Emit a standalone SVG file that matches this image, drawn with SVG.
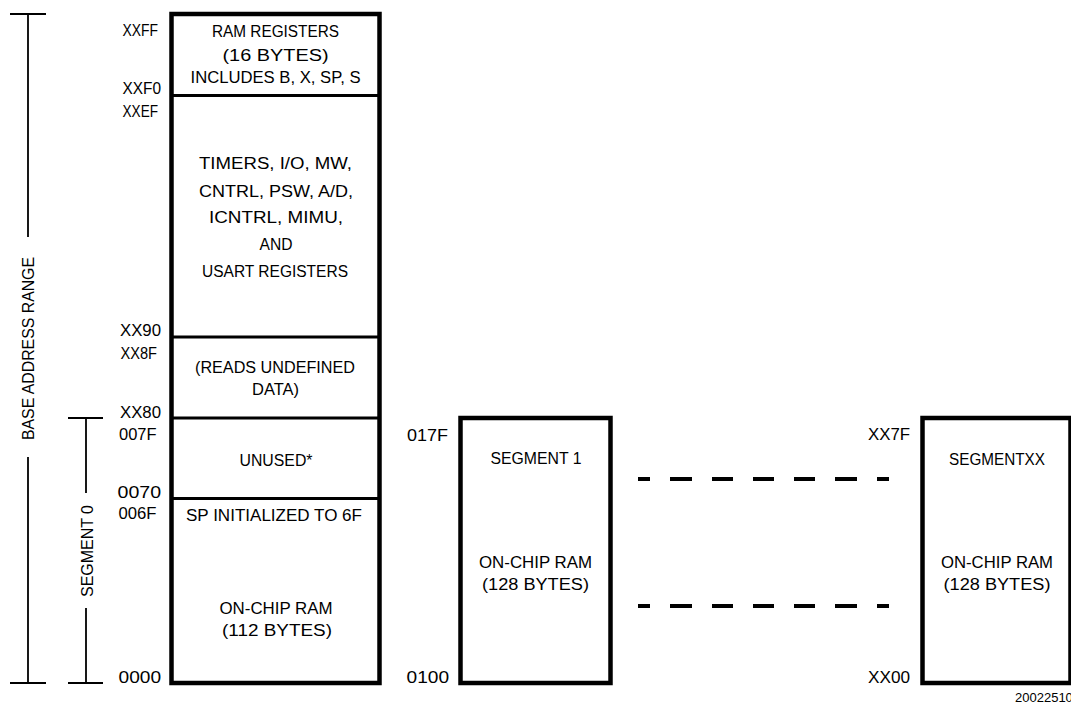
<svg xmlns="http://www.w3.org/2000/svg" width="1071" height="711" viewBox="0 0 1071 711">
<style>
text{font-family:"Liberation Sans",Arial,sans-serif;font-size:16px;fill:#000}
.c{text-anchor:middle}
.box{fill:#fff;stroke:#000;stroke-width:4.5}
.div{stroke:#000;stroke-width:3;fill:none}
.thin{stroke:#000;stroke-width:1.8;fill:none}
.dash{stroke:#000;stroke-width:4;fill:none}
.fig{font-size:13px}
</style>
<rect width="1071" height="711" fill="#fff"/>
<g id="connectors">
<path class="thin" d="M10 14H46M28 14V237M28 457V683M10 683H46"/>
<path class="thin" d="M68 418H103M86 418V493M86 608V683M68 683H103"/>
<path class="dash" d="M638 479H650M670 479H692M712 479H733M753 479H774M794 479H815M835 479H857M877 479H889"/>
<path class="dash" d="M638 606H650M670 606H692M712 606H733M753 606H774M794 606H815M835 606H857M877 606H889"/>
</g>
<g id="range-labels">
<text transform="translate(34 348.5) rotate(-90)" class="c" textLength="183" lengthAdjust="spacingAndGlyphs">BASE ADDRESS RANGE</text>
<text transform="translate(92.5 551) rotate(-90)" class="c" textLength="92" lengthAdjust="spacingAndGlyphs">SEGMENT 0</text>
</g>
<g id="segment0">
<rect class="box" x="171.5" y="14" width="208" height="669"/>
<path class="div" d="M171.5 95.5H379.5M171.5 337H379.5M171.5 418H379.5M171.5 498.5H379.5"/>
<text x="275.5" y="36.5" class="c" textLength="127" lengthAdjust="spacingAndGlyphs">RAM REGISTERS</text>
<text x="275.5" y="60.5" class="c" textLength="106" lengthAdjust="spacingAndGlyphs">(16 BYTES)</text>
<text x="275.5" y="83" class="c" textLength="170" lengthAdjust="spacingAndGlyphs">INCLUDES B, X, SP, S</text>
<text x="275.5" y="169" class="c" textLength="153" lengthAdjust="spacingAndGlyphs">TIMERS, I/O, MW,</text>
<text x="276" y="197" class="c" textLength="154" lengthAdjust="spacingAndGlyphs">CNTRL, PSW, A/D,</text>
<text x="276" y="223" class="c" textLength="134" lengthAdjust="spacingAndGlyphs">ICNTRL, MIMU,</text>
<text x="276" y="249.5" class="c" textLength="33" lengthAdjust="spacingAndGlyphs">AND</text>
<text x="275" y="276.5" class="c" textLength="146" lengthAdjust="spacingAndGlyphs">USART REGISTERS</text>
<text x="275" y="372.5" class="c" textLength="160" lengthAdjust="spacingAndGlyphs">(READS UNDEFINED</text>
<text x="275.5" y="395" class="c" textLength="47" lengthAdjust="spacingAndGlyphs">DATA)</text>
<text x="276" y="465.5" class="c" textLength="73" lengthAdjust="spacingAndGlyphs">UNUSED*</text>
<text x="274" y="521" class="c" textLength="176" lengthAdjust="spacingAndGlyphs">SP INITIALIZED TO 6F</text>
<text x="276" y="614" class="c" textLength="113" lengthAdjust="spacingAndGlyphs">ON-CHIP RAM</text>
<text x="277" y="636" class="c" textLength="110" lengthAdjust="spacingAndGlyphs">(112 BYTES)</text>
</g>
<g id="addresses0">
<text x="122.5" y="35.5" textLength="35.5" lengthAdjust="spacingAndGlyphs">XXFF</text>
<text x="122.5" y="94" textLength="38.5" lengthAdjust="spacingAndGlyphs">XXF0</text>
<text x="122.5" y="117" textLength="35.5" lengthAdjust="spacingAndGlyphs">XXEF</text>
<text x="120" y="336" textLength="41" lengthAdjust="spacingAndGlyphs">XX90</text>
<text x="120.5" y="358.5" textLength="36.5" lengthAdjust="spacingAndGlyphs">XX8F</text>
<text x="120" y="417.5" textLength="41" lengthAdjust="spacingAndGlyphs">XX80</text>
<text x="119" y="439.5" textLength="37.5" lengthAdjust="spacingAndGlyphs">007F</text>
<text x="117.5" y="498" textLength="43.5" lengthAdjust="spacingAndGlyphs">0070</text>
<text x="118.5" y="519" textLength="38" lengthAdjust="spacingAndGlyphs">006F</text>
<text x="118.5" y="683" textLength="42.5" lengthAdjust="spacingAndGlyphs">0000</text>
</g>
<g id="segment1">
<rect class="box" x="460.5" y="418" width="150" height="265"/>
<text x="536" y="464" class="c" textLength="91" lengthAdjust="spacingAndGlyphs">SEGMENT 1</text>
<text x="535.5" y="568" class="c" textLength="113" lengthAdjust="spacingAndGlyphs">ON-CHIP RAM</text>
<text x="535.5" y="590" class="c" textLength="107" lengthAdjust="spacingAndGlyphs">(128 BYTES)</text>
<text x="407" y="441" textLength="41" lengthAdjust="spacingAndGlyphs">017F</text>
<text x="406.5" y="682.5" textLength="42.5" lengthAdjust="spacingAndGlyphs">0100</text>
</g>
<g id="segmentxx">
<rect class="box" x="922.5" y="418" width="148" height="265"/>
<text x="997" y="465" class="c" textLength="96" lengthAdjust="spacingAndGlyphs">SEGMENTXX</text>
<text x="997" y="568" class="c" textLength="112" lengthAdjust="spacingAndGlyphs">ON-CHIP RAM</text>
<text x="997" y="590" class="c" textLength="107" lengthAdjust="spacingAndGlyphs">(128 BYTES)</text>
<text x="868" y="440" textLength="42" lengthAdjust="spacingAndGlyphs">XX7F</text>
<text x="868" y="683" textLength="42" lengthAdjust="spacingAndGlyphs">XX00</text>
</g>
<g id="figure-number">
<text class="fig" x="1015" y="702">20022510</text>
</g>
</svg>
